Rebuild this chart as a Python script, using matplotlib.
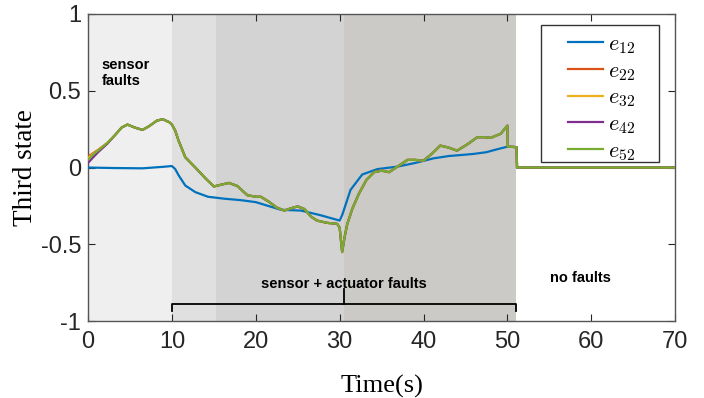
import matplotlib
matplotlib.use("Agg")
import matplotlib.pyplot as plt
from matplotlib.patches import Rectangle

plt.rcParams['mathtext.fontset'] = 'cm'

# ---- data ----
t_e12 = [0, 3, 6.5, 9, 10.0, 10.4, 10.8, 11.6, 12.8, 14.3, 16.3, 18.2, 20, 23, 25.4, 27.7,
         30.0, 30.3, 31.3, 32.7, 34.5, 36.9, 39, 41.2, 43, 45.2, 46.0, 47.5, 48.5, 50, 51.1,
         51.15, 70]
v_e12 = [0.0, -0.003, -0.005, 0.005, 0.01, -0.01, -0.05, -0.117, -0.16, -0.19, -0.203,
         -0.212, -0.225, -0.275, -0.28, -0.31, -0.345, -0.31, -0.145, -0.045, -0.01, 0.006,
         0.03, 0.06, 0.075, 0.085, 0.089, 0.10, 0.115, 0.136, 0.133, 0.0, 0.0]

t_e52 = [0.0, 0.5, 1.2, 2.3, 3.2, 4.0, 4.7, 5.6, 6.5, 7.3, 8.2, 8.9, 9.3, 9.7, 10.0, 10.4,
         10.8, 11.6, 12.8, 14.0, 15.0, 16.0, 16.8, 17.8, 19.0, 20.0, 20.6, 21.5, 22.5, 23.4,
         24.2, 25.0, 25.8, 26.6, 27.3, 28.5, 29.7, 30.0, 30.3, 30.6, 30.9, 31.5, 32.3, 33.2,
         34.1, 35.0, 35.9, 37.0, 38.1, 39.0, 40.0, 41.0, 42.0, 43.0, 44.0, 45.2, 46.4, 47.2,
         48.0, 49.2, 50.0, 50.05, 51.1, 51.15, 70]
v_e52 = [0.05, 0.08, 0.11, 0.16, 0.21, 0.26, 0.28, 0.26, 0.245, 0.27, 0.305, 0.315, 0.305,
         0.295, 0.28, 0.24, 0.175, 0.067, 0.0, -0.07, -0.123, -0.11, -0.1, -0.12, -0.18,
         -0.19, -0.19, -0.22, -0.26, -0.28, -0.265, -0.253, -0.27, -0.32, -0.345, -0.36,
         -0.366, -0.39, -0.55, -0.45, -0.37, -0.27, -0.17, -0.08, -0.03, -0.02, -0.03, 0.01,
         0.05, 0.05, 0.045, 0.09, 0.143, 0.13, 0.11, 0.15, 0.197, 0.198, 0.193, 0.22, 0.273,
         0.136, 0.133, 0.0, 0.0]

t_start = [0.0, 0.5, 1.2, 2.3]
v_e22 = [0.07, 0.09, 0.115, 0.16]
v_e32 = [0.06, 0.085, 0.112, 0.16]
v_e42 = [0.03, 0.06, 0.10, 0.155]

series_labels = [r'$e_{12}$', r'$e_{22}$', r'$e_{32}$', r'$e_{42}$', r'$e_{52}$']
series_colors = ['#0072BD', '#D95319', '#EDB120', '#7E2F8E', '#77AC30']

regions = [(0, 10, '#efefef'), (10, 15.3, '#e0e0e0'), (15.3, 30.5, '#d3d3d3'), (30.5, 51, '#cbcac6')]

xticks = [0, 10, 20, 30, 40, 50, 60, 70]
yticks = [-1, -0.5, 0, 0.5, 1]
ytick_labels = ['-1', '-0.5', '0', '0.5', '1']

fig = plt.figure(figsize=(7.04, 3.98), dpi=100)
ax = fig.add_axes([0.125, 0.193, 0.834, 0.772])

for a, b, c in regions:
    ax.axvspan(a, b, color=c, lw=0, zorder=0)

def others(v_head):
    return v_head + v_e52[len(v_head):]

ys = [v_e12, others(v_e22), others(v_e32), others(v_e42), v_e52]
ts = [t_e12, t_e52, t_e52, t_e52, t_e52]
for t, v, c, lab in zip(ts, ys, series_colors, series_labels):
    ax.plot(t, v, color=c, lw=1.6, label=lab, zorder=3)

ax.set_xlim(0, 70)
ax.set_ylim(-1, 1)
ax.set_xticks(xticks)
ax.set_yticks(yticks)
ax.set_yticklabels(ytick_labels)
ax.tick_params(direction='in', top=True, right=True, labelsize=17, colors='#262626',
               length=5, width=0.8)
ax.tick_params(axis='x', pad=7)
ax.tick_params(axis='y', pad=5)
for lab in ax.get_xticklabels() + ax.get_yticklabels():
    lab.set_fontfamily('Liberation Sans')
for s in ax.spines.values():
    s.set_color('#555555')
    s.set_linewidth(1.0)

ax.set_xlabel('Time(s)', fontfamily='Liberation Serif', fontsize=19, labelpad=16)
ax.set_ylabel('Third state', fontfamily='Liberation Serif', fontsize=19.5, labelpad=2)

# annotations
ax.text(1.6, 0.615, 'sensor\nfaults', fontfamily='Liberation Sans', fontweight='bold',
        fontsize=10.5, va='center', ha='left', linespacing=1.25, zorder=4)
ax.text(30.5, -0.76, 'sensor + actuator faults', fontfamily='Liberation Sans',
        fontweight='bold', fontsize=10.5, ha='center', va='center', zorder=4)
ax.text(58.7, -0.72, 'no faults', fontfamily='Liberation Sans', fontweight='bold',
        fontsize=10.5, ha='center', va='center', zorder=4)

# brace
ax.plot([10, 10, 51, 51], [-0.935, -0.885, -0.885, -0.935], color='black', lw=1.3,
        solid_joinstyle='round', zorder=4)
ax.plot([30.5, 30.5], [-0.885, -0.79], color='black', lw=1.3, zorder=4)

# legend frame
ax.add_patch(Rectangle((0.772, 0.518), 0.201, 0.446, transform=ax.transAxes,
                       facecolor='white', edgecolor='#333333', lw=1.0, zorder=5))
leg = ax.legend(loc='upper left', bbox_to_anchor=(0.817, 0.934), borderaxespad=0,
                borderpad=0, fontsize=16, frameon=False, handlelength=1.6,
                labelspacing=0.22, handletextpad=0.2)
leg.set_zorder(6)

fig.savefig('out.png', dpi=100)
